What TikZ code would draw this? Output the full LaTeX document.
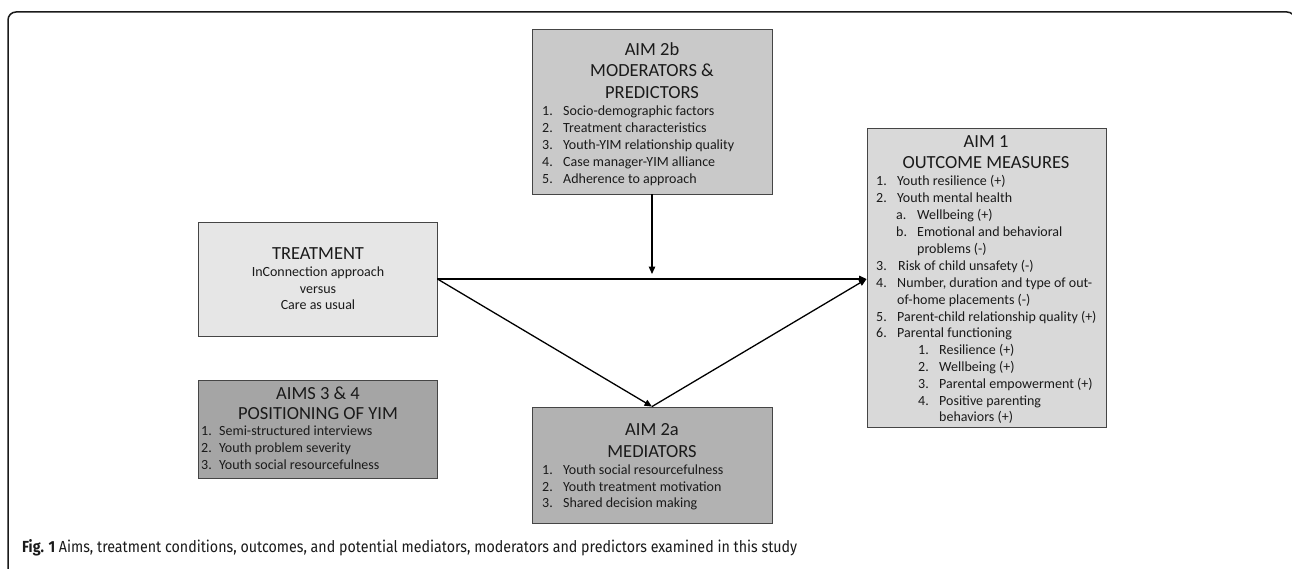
\documentclass[tikz,border=0pt]{standalone}
\usepackage{fontspec}
\usepackage{graphicx}
\setmainfont{Carlito}
\newfontfamily\capfont{Fira Sans}
\usetikzlibrary{arrows.meta}
\definecolor{boxline}{HTML}{454545}
\definecolor{c2b}{HTML}{C9C9C9}
\definecolor{c1}{HTML}{D9D9D9}
\definecolor{ct}{HTML}{E6E6E6}
\definecolor{c34}{HTML}{A5A5A5}
\definecolor{c2a}{HTML}{B2B2B2}
\definecolor{ink}{HTML}{1A1A1A}
\begin{document}
\begin{tikzpicture}[x=1pt,y=-1pt,
  box/.style={draw=boxline, line width=0.9pt, inner sep=0pt},
  ttl/.style={font=\fontsize{18.5}{21}\selectfont, text=ink, inner sep=0pt, text height=12.5pt, text depth=0.5pt, anchor=center},
  itm/.style={font=\fontsize{14}{16}\selectfont, text=ink, inner sep=0pt, text height=9.5pt, text depth=2.5pt, anchor=west},
  arr/.style={draw=black, line width=1.3pt, -{Triangle[length=7.5pt,width=6.5pt]}},
  frame/.style={draw=ink, line width=1.5pt, rounded corners=8pt}]
\useasboundingbox (0,0) rectangle (1292,569);
\clip (0,0) rectangle (1292,569);
\fill[white] (0,0) rectangle (1292,569);
\draw[frame] (8,12) rectangle (1295,640);

% boxes
\node[box, fill=c2b, minimum width=240pt, minimum height=165pt] (m2b) at (652,111.5) {};
\node[box, fill=c1, minimum width=239pt, minimum height=299pt] (m1) at (986.5,277.5) {};
\node[box, fill=ct, minimum width=239pt, minimum height=114pt] (mt) at (317.5,279) {};
\node[box, fill=c34, minimum width=239pt, minimum height=98pt] (m34) at (317.5,429) {};
\node[box, fill=c2a, minimum width=240pt, minimum height=116pt] (m2a) at (652,465) {};

% AIM 2b
\node[ttl] (t2b1) at (652,50) {AIM 2b};
\node[ttl] (t2b2) at (652,71) {MODERATORS \&};
\node[ttl] (t2b3) at (652,93) {PREDICTORS};
\node[itm] (n2b1) at (542,112) {1.}; \node[itm] (i2b1) at (563,112) {Socio-demographic factors};
\node[itm] (n2b2) at (542,129) {2.}; \node[itm] (i2b2) at (563,129) {Treatment characteristics};
\node[itm] (n2b3) at (542,146) {3.}; \node[itm] (i2b3) at (563,146) {Youth-YIM relationship quality};
\node[itm] (n2b4) at (542,163) {4.}; \node[itm] (i2b4) at (563,163) {Case manager-YIM alliance};
\node[itm] (n2b5) at (542,180) {5.}; \node[itm] (i2b5) at (563,180) {Adherence to approach};

% AIM 1
\node[ttl] (t11) at (986,142) {AIM 1};
\node[ttl] (t12) at (986,163) {OUTCOME MEASURES};
\node[itm] (n101) at (876,182) {1.}; \node[itm] (i101) at (897,182) {Youth resilience (+)};
\node[itm] (n102) at (876,199) {2.}; \node[itm] (i102) at (897,199) {Youth mental health};
\node[itm] (n103) at (896,216) {a.}; \node[itm] (i103) at (917,216) {Wellbeing (+)};
\node[itm] (n104) at (896,233) {b.}; \node[itm] (i104) at (917,233) {Emotional and behavioral};
\node[itm] (i105) at (917,250) {problems (-)};
\node[itm] (n106) at (876,267) {3.}; \node[itm] (i106) at (898,267) {Risk of child unsafety (-)};
\node[itm] (n107) at (876,284) {4.}; \node[itm] (i107) at (897,284) {Number, duration and type of out-};
\node[itm] (i108) at (897,301) {of-home placements (-)};
\node[itm] (n109) at (876,318) {5.}; \node[itm] (i109) at (897,318) {Parent-child relationship quality (+)};
\node[itm] (n110) at (876,334) {6.}; \node[itm] (i110) at (897,334) {Parental functioning};
\node[itm] (n111) at (918,351) {1.}; \node[itm] (i111) at (939,351) {Resilience (+)};
\node[itm] (n112) at (918,368) {2.}; \node[itm] (i112) at (939,368) {Wellbeing (+)};
\node[itm] (n113) at (918,385) {3.}; \node[itm] (i113) at (939,385) {Parental empowerment (+)};
\node[itm] (n114) at (918,402) {4.}; \node[itm] (i114) at (939,402) {Positive parenting};
\node[itm] (i115) at (939,418) {behaviors (+)};

% TREATMENT
\node[ttl] (tt1) at (318,253) {TREATMENT};
\node[itm, anchor=center] (tt2) at (318,273) {InConnection approach};
\node[itm, anchor=center] (tt3) at (318,290) {versus};
\node[itm, anchor=center] (tt4) at (318,306) {Care as usual};

% AIMS 3 & 4
\node[ttl] (t341) at (318,393) {AIMS 3 \& 4};
\node[ttl] (t342) at (318,413) {POSITIONING OF YIM};
\node[itm] (n341) at (201,432) {1.}; \node[itm] (i341) at (219,432) {Semi-structured interviews};
\node[itm] (n342) at (201,449) {2.}; \node[itm] (i342) at (219,449) {Youth problem severity};
\node[itm] (n343) at (201,466) {3.}; \node[itm] (i343) at (219,466) {Youth social resourcefulness};

% AIM 2a
\node[ttl] (t2a1) at (652,429) {AIM 2a};
\node[ttl] (t2a2) at (652,451) {MEDIATORS};
\node[itm] (n2a1) at (542,471) {1.}; \node[itm] (i2a1) at (563,471) {Youth social resourcefulness};
\node[itm] (n2a2) at (542,488) {2.}; \node[itm] (i2a2) at (563,488) {Youth treatment motivation};
\node[itm] (n2a3) at (542,504) {3.}; \node[itm] (i2a3) at (563,504) {Shared decision making};

% connectors
\coordinate (tip) at (mt.east -| m1.west);
\coordinate (hit) at (652,274);
\draw[arr] (mt.east) -- (tip);
\draw[arr] (mt.east) -- (m2a.north);
\draw[arr] (m2a.north) -- (tip);
\draw[arr] (m2b.south) -- (hit);

% caption
\node[text=ink, inner sep=0pt, anchor=base west] (cap) at (22,552) {\resizebox{775pt}{13pt}{\capfont\fontsize{18}{20}\selectfont\textbf{Fig. 1} Aims, treatment conditions, outcomes, and potential mediators, moderators and predictors examined in this study}};
\end{tikzpicture}
\end{document}
